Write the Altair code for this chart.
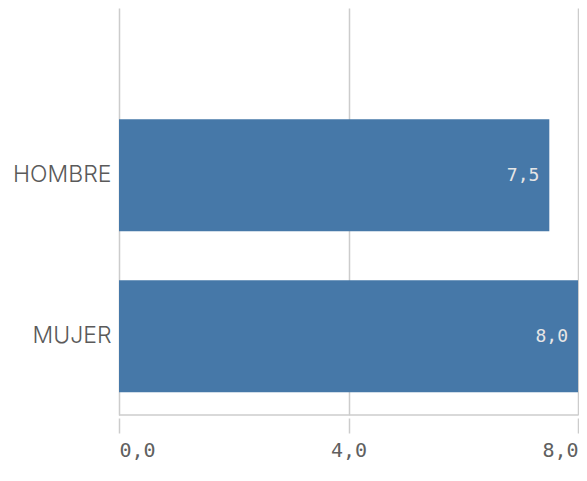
import altair as alt
import pandas as pd

categories = ["HOMBRE", "MUJER"]
values = [7.5, 8.0]
x_ticks = [0, 4, 8]

df = pd.DataFrame({"cat": categories, "v": values})

GRID = "#cccccc"
BAR = "#4678a8"

y_enc = alt.Y(
    "cat:N",
    sort=categories,
    title=None,
    scale=alt.Scale(paddingInner=0.304, paddingOuter=0.416, align=0.83),
    axis=alt.Axis(
        domain=False, ticks=False, labelPadding=8, labelFontSize=23,
        labelFont="Inter", labelColor="#5a5a5a", labelFontWeight=300,
    ),
)
x_enc = alt.X(
    "v:Q",
    title=None,
    scale=alt.Scale(domain=[0, 8], nice=False),
    axis=alt.Axis(
        values=x_ticks, domain=False, grid=True, gridColor=GRID, gridWidth=1.5,
        tickColor=GRID, tickSize=15, tickWidth=1.5, offset=3, labelPadding=7,
        labelFont="DejaVu Sans Mono", labelFontSize=20, labelColor="#606060",
        labelFlush=True,
        labelExpr="replace(format(datum.value, '.1f'), '.', ',')",
    ),
)

base = alt.Chart(df).encode(y=y_enc)

bars = base.mark_bar(color=BAR).encode(x=x_enc)

text = base.transform_calculate(
    lbl="replace(format(datum.v, '.1f'), '.', ',')"
).mark_text(
    align="right", baseline="middle", dx=-10, dy=1, color="#e6e6e6",
    font="DejaVu Sans Mono", fontSize=18,
).encode(x="v:Q", text="lbl:N")

bottom = alt.Chart(pd.DataFrame({"a": [0]})).mark_rule(
    color=GRID, strokeWidth=1.5
).encode(x=alt.datum(0), x2=alt.datum(8), y=alt.value({"expr": "height"}))

chart = alt.layer(bars, text, bottom).properties(
    width=571, height=407,
    autosize=alt.AutoSizeParams(type="fit-x", contains="padding"),
    padding={"left": 4, "top": 0, "right": 0, "bottom": 0},
).configure_view(stroke=None)

chart.save("out.html", embed_options={"renderer": "svg", "actions": False})
